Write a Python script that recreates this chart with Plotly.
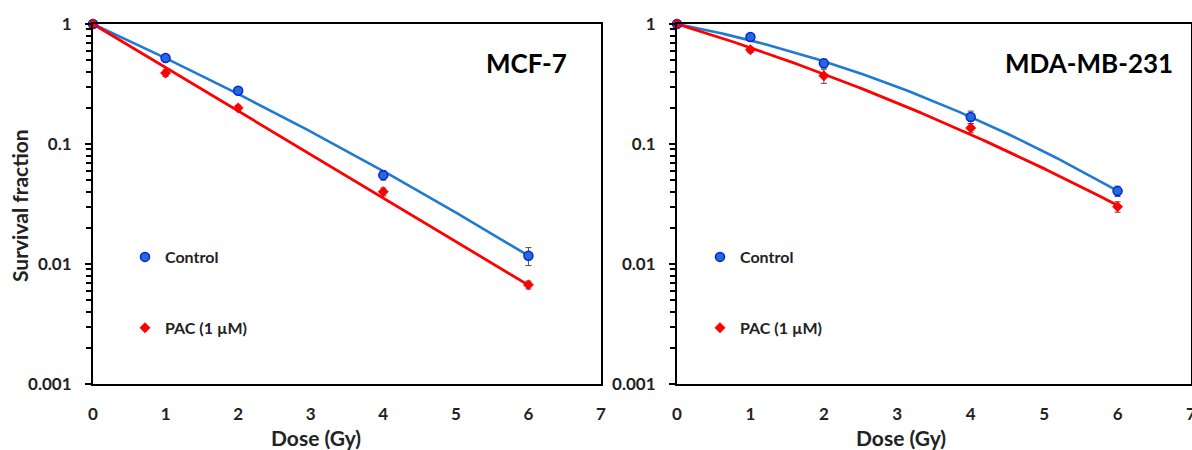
import plotly.graph_objects as go
import numpy as np

# ---------------- data ----------------
dose = [0, 1, 2, 4, 6]

mcf7_control = [1.0, 0.52, 0.278, 0.055, 0.0117]
mcf7_control_err = [0.0, 0.03, 0.01, 0.005, 0.002]
mcf7_pac = [1.0, 0.39, 0.20, 0.040, 0.0067]
mcf7_pac_err = [0.0, 0.025, 0.01, 0.003, 0.0005]

mda_control = [1.0, 0.78, 0.47, 0.168, 0.0405]
mda_control_err = [0.0, 0.03, 0.04, 0.02, 0.004]
mda_pac = [1.0, 0.61, 0.37, 0.136, 0.030]
mda_pac_err = [0.0, 0.03, 0.05, 0.012, 0.003]

# linear-quadratic fit parameters (alpha, beta)
mcf7_control_fit = (0.636, 0.0175)
mcf7_pac_fit = (0.835, 0.0)
mda_control_fit = (0.27, 0.044)
mda_pac_fit = (0.43, 0.025)

x_ticks = [0, 1, 2, 3, 4, 5, 6, 7]
y_ticks = [0.001, 0.01, 0.1, 1]
y_ticktext = ["0.001", "0.01", "0.1", "1"]
minor_vals = [m * 10.0 ** k for k in (-3, -2, -1) for m in range(2, 10)]

panel_titles = ["MCF-7", "MDA-MB-231"]
series_names = ["Control", "PAC (1 µM)"]

# ---------------- style ----------------
FONT = "Lato, 'Open Sans', sans-serif"
BLUE_LINE = "#1F7AD2"
BLUE_FILL = "#1F6FD0"
BLUE_EDGE = "#0A1EEB"
RED = "#FF0000"
ERR = "#505050"

W, H = 1192, 450
left_dom = [93 / W, 601 / W]
right_dom = [677 / W, 1191 / W]
y_dom = [(H - 384) / H, (H - 24) / H]

fig = go.Figure()

d_fine = np.linspace(0, 6, 121)


def lq(params):
    a, b = params
    return np.exp(-a * d_fine - b * d_fine ** 2)


panels = [
    ("x", "y", "legend", mcf7_control, mcf7_control_err, mcf7_pac, mcf7_pac_err,
     mcf7_control_fit, mcf7_pac_fit),
    ("x2", "y2", "legend2", mda_control, mda_control_err, mda_pac, mda_pac_err,
     mda_control_fit, mda_pac_fit),
]

for xa, ya, leg, ctrl, ctrl_e, pac, pac_e, cfit, pfit in panels:
    # fitted curves
    fig.add_trace(go.Scatter(x=d_fine, y=lq(cfit), mode="lines", xaxis=xa, yaxis=ya,
                             line=dict(color=BLUE_LINE, width=2.6), showlegend=False,
                             hoverinfo="skip", cliponaxis=False))
    fig.add_trace(go.Scatter(x=d_fine, y=lq(pfit), mode="lines", xaxis=xa, yaxis=ya,
                             line=dict(color=RED, width=2.8), showlegend=False,
                             hoverinfo="skip", cliponaxis=False))
    # data points
    fig.add_trace(go.Scatter(x=dose, y=ctrl, mode="markers", xaxis=xa, yaxis=ya,
                             name=series_names[0], legend=leg, legendgroup="c",
                             marker=dict(symbol="circle", size=9, color=BLUE_FILL,
                                         line=dict(color=BLUE_EDGE, width=1.5)),
                             error_y=dict(type="data", array=ctrl_e, color=ERR,
                                          thickness=1, width=3),
                             cliponaxis=False))
    fig.add_trace(go.Scatter(x=dose, y=pac, mode="markers", xaxis=xa, yaxis=ya,
                             name=series_names[1], legend=leg, legendgroup="p",
                             marker=dict(symbol="diamond", size=8, color=RED,
                                         line=dict(color=RED, width=0.5)),
                             error_y=dict(type="data", array=pac_e, color=ERR,
                                          thickness=1, width=3),
                             cliponaxis=False))

xaxis_common = dict(
    range=[0, 7], tickvals=x_ticks, ticks="", showline=True, mirror=True,
    linecolor="black", linewidth=2, showgrid=False, zeroline=False,
    tickfont=dict(family=FONT, size=17, color="#222", weight="bold"),
    ticklabelstandoff=14, fixedrange=True, automargin=False,
    ticklabeloverflow="allow",
)
yaxis_common = dict(
    type="log", range=[-3, 0], tickvals=y_ticks, ticktext=y_ticktext,
    ticks="outside", ticklen=6, tickwidth=2, tickcolor="black",
    minor=dict(tickvals=minor_vals, ticks="outside", ticklen=5, tickwidth=1.5,
               tickcolor="black", showgrid=False),
    showline=True, mirror=True, linecolor="black", linewidth=2,
    showgrid=False, zeroline=False,
    tickfont=dict(family=FONT, size=17, color="#222", weight="bold"),
    ticklabelstandoff=10, domain=y_dom, fixedrange=True, automargin=False,
)

legend_common = dict(
    bgcolor="rgba(0,0,0,0)", borderwidth=0, tracegroupgap=47,
    font=dict(family=FONT, size=16, color="#222", weight="bold"),
    xanchor="left", yanchor="top", itemwidth=30,
)

fig.update_layout(
    width=W, height=H,
    margin=dict(l=0, r=0, t=0, b=0, pad=0, autoexpand=False),
    paper_bgcolor="white", plot_bgcolor="white",
    showlegend=True,
    xaxis=dict(domain=left_dom, anchor="y", **xaxis_common),
    yaxis=dict(anchor="x", **yaxis_common),
    xaxis2=dict(domain=right_dom, anchor="y2", **xaxis_common),
    yaxis2=dict(anchor="x2", **yaxis_common),
    legend=dict(x=125 / W, y=(H - 240) / H, **legend_common),
    legend2=dict(x=700 / W, y=(H - 240) / H, **legend_common),
    annotations=[
        dict(text=panel_titles[0], xref="paper", yref="paper", x=569 / W, y=(H - 63) / H,
             xanchor="right", yanchor="middle", showarrow=False,
             font=dict(family=FONT, size=26, color="black", weight="bold")),
        dict(text=panel_titles[1], xref="paper", yref="paper", x=1175 / W, y=(H - 63) / H,
             xanchor="right", yanchor="middle", showarrow=False,
             font=dict(family=FONT, size=26, color="black", weight="bold")),
        dict(text="Dose (Gy)", xref="paper", yref="paper", x=316 / W, y=(H - 437) / H,
             xanchor="center", yanchor="middle", showarrow=False,
             font=dict(family=FONT, size=21, color="#222", weight="bold")),
        dict(text="Dose (Gy)", xref="paper", yref="paper", x=901 / W, y=(H - 437) / H,
             xanchor="center", yanchor="middle", showarrow=False,
             font=dict(family=FONT, size=21, color="#222", weight="bold")),
        dict(text="Survival fraction", xref="paper", yref="paper", x=20 / W, y=(H - 206) / H,
             xanchor="center", yanchor="middle", showarrow=False, textangle=-90,
             font=dict(family=FONT, size=21, color="#222", weight="bold")),
    ],
)

fig.write_html("out.html")
